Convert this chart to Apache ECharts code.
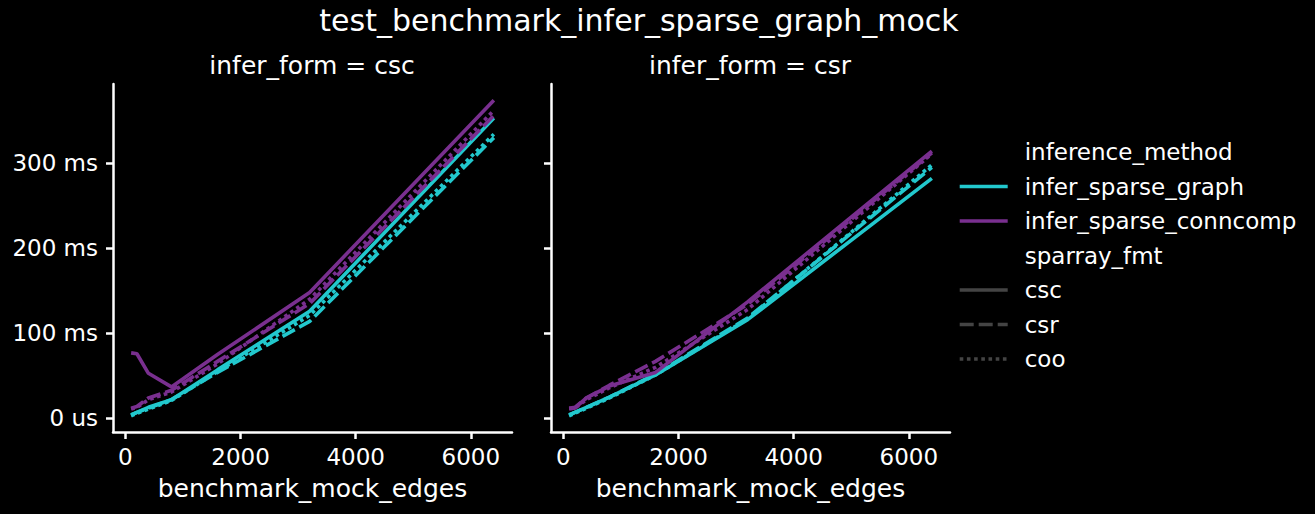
<!DOCTYPE html>
<html>
<head>
<meta charset="utf-8">
<script src="https://cdn.jsdelivr.net/npm/echarts@6/dist/echarts.min.js"></script>
<style>
  html, body { margin: 0; padding: 0; background: #000; }
  #chart { width: 1315px; height: 514px; }
</style>
</head>
<body>
<div id="chart"></div>
<script>
// benchmark_mock_edges
const edges = [100, 200, 400, 800, 1600, 3200, 6400];

// panel infer_form = csc (ms)
const cscGraphCsc = [4, 7, 13, 22, 57, 126, 353];
const cscGraphCsr = [4, 7, 12, 22, 54, 114, 330];
const cscGraphCoo = [3, 6, 11, 21, 55, 121, 334];
const cscConnCsc = [77, 76, 53, 37, 75, 148, 374];
const cscConnCsr = [12, 14, 24, 33, 67, 135, 356];
const cscConnCoo = [11, 13, 22, 31, 64, 140, 362];

// panel infer_form = csr (ms)
const csrGraphCsc = [4, 7, 13, 25, 51, 116, 282];
const csrGraphCsr = [4, 7, 13, 25, 52, 118, 295];
const csrGraphCoo = [3, 6, 12, 24, 51, 117, 298];
const csrConnCsc = [12, 12, 24, 38, 54, 137, 314];
const csrConnCsr = [12, 13, 24, 39, 67, 134, 312];
const csrConnCoo = [11, 12, 22, 36, 60, 128, 311];

const xTicks = [0, 2000, 4000, 6000];
const xTickLabels = ['0', '2000', '4000', '6000'];
const yTicks = [0, 100, 200, 300];
const yTickLabels = ['0 us', '100 ms', '200 ms', '300 ms'];
const panelTitles = ['infer_form = csc', 'infer_form = csr'];
const legendNames = ['inference_method', 'infer_sparse_graph', 'infer_sparse_conncomp',
                     'sparray_fmt', 'csc', 'csr', 'coo'];

const CYAN = '#22c8cd';
const PURPLE = '#792f8f';
const FONT = 'DejaVu Sans';
const LW = 3.6;
const dashes = { csc: 'solid', csr: [14, 5], coo: [3.6, 3.6] };

const chart = echarts.init(document.getElementById('chart'), null, { renderer: 'svg' });

function pts(ys) {
  return edges.map((x, i) => [x, ys[i]]);
}

function line(name, panel, ys, color, fmt) {
  return {
    name: name,
    type: 'line',
    xAxisIndex: panel,
    yAxisIndex: panel,
    data: pts(ys),
    symbol: 'none',
    silent: true,
    animation: false,
    lineStyle: { color: color, width: LW, type: dashes[fmt], cap: 'butt' }
  };
}

function axisX(i) {
  return {
    type: 'value', gridIndex: i, min: -215, max: 6715,
    name: 'benchmark_mock_edges', nameLocation: 'middle', nameGap: 44,
    nameTextStyle: { color: '#fff', fontSize: 25, fontFamily: FONT },
    axisLine: { onZero: false, lineStyle: { color: '#fff', width: 2.5 } },
    axisTick: { customValues: xTicks, length: 7, lineStyle: { color: '#fff', width: 2.5 } },
    axisLabel: {
      customValues: xTicks, color: '#fff', fontSize: 23, fontFamily: FONT, margin: 13,
      formatter: v => xTickLabels[xTicks.indexOf(v)]
    },
    splitLine: { show: false }
  };
}

function axisY(i) {
  return {
    type: 'value', gridIndex: i, min: -16, max: 393,
    axisLine: { show: true, onZero: false, lineStyle: { color: '#fff', width: 2.5 } },
    axisTick: { show: true, customValues: yTicks, length: 7, lineStyle: { color: '#fff', width: 2.5 } },
    axisLabel: {
      show: i === 0, customValues: yTicks, color: '#fff', fontSize: 23, fontFamily: FONT, margin: 15,
      formatter: v => yTickLabels[yTicks.indexOf(v)]
    },
    splitLine: { show: false }
  };
}

const legendSeries = [
  { name: 'inference_method', color: '#000', fmt: 'csc', opacity: 0 },
  { name: 'infer_sparse_graph', color: CYAN, fmt: 'csc', opacity: 1 },
  { name: 'infer_sparse_conncomp', color: PURPLE, fmt: 'csc', opacity: 1 },
  { name: 'sparray_fmt', color: '#000', fmt: 'csc', opacity: 0 },
  { name: 'csc', color: '#444', fmt: 'csc', opacity: 1 },
  { name: 'csr', color: '#444', fmt: 'csr', opacity: 1 },
  { name: 'coo', color: '#444', fmt: 'coo', opacity: 1 }
].map(d => ({
  name: d.name, type: 'line', data: [], symbol: 'none',
  xAxisIndex: 0, yAxisIndex: 0,
  itemStyle: { color: d.color, opacity: 0 },
  lineStyle: { color: d.color, width: LW, type: dashes[d.fmt], opacity: d.opacity }
}));

const option = {
  backgroundColor: '#000',
  animation: false,
  title: [
    { text: 'test_benchmark_infer_sparse_graph_mock', left: 639, top: 5, textAlign: 'center', padding: 0,
      textStyle: { color: '#fff', fontSize: 30, fontWeight: 'normal', fontFamily: FONT } },
    { text: panelTitles[0], left: 312, top: 53, textAlign: 'center', padding: 0,
      textStyle: { color: '#fff', fontSize: 25, fontWeight: 'normal', fontFamily: FONT } },
    { text: panelTitles[1], left: 750, top: 53, textAlign: 'center', padding: 0,
      textStyle: { color: '#fff', fontSize: 25, fontWeight: 'normal', fontFamily: FONT } }
  ],
  legend: {
    data: legendNames,
    left: 958, top: 140, orient: 'vertical', padding: 0,
    itemWidth: 48, itemHeight: 14, itemGap: 10.5,
    selectedMode: false,
    itemStyle: { opacity: 0 },
    lineStyle: { width: 3.4 },
    textStyle: { color: '#fff', fontSize: 23, fontFamily: FONT, lineHeight: 24, padding: [0, 0, 0, 12] }
  },
  grid: [
    { left: 113, top: 84, width: 399, height: 348 },
    { left: 551, top: 84, width: 399, height: 348 }
  ],
  xAxis: [axisX(0), axisX(1)],
  yAxis: [axisY(0), axisY(1)],
  series: [
    line('csc graph csc', 0, cscGraphCsc, CYAN, 'csc'),
    line('csc graph csr', 0, cscGraphCsr, CYAN, 'csr'),
    line('csc graph coo', 0, cscGraphCoo, CYAN, 'coo'),
    line('csc conn csc', 0, cscConnCsc, PURPLE, 'csc'),
    line('csc conn csr', 0, cscConnCsr, PURPLE, 'csr'),
    line('csc conn coo', 0, cscConnCoo, PURPLE, 'coo'),
    line('csr graph csc', 1, csrGraphCsc, CYAN, 'csc'),
    line('csr graph csr', 1, csrGraphCsr, CYAN, 'csr'),
    line('csr graph coo', 1, csrGraphCoo, CYAN, 'coo'),
    line('csr conn csc', 1, csrConnCsc, PURPLE, 'csc'),
    line('csr conn csr', 1, csrConnCsr, PURPLE, 'csr'),
    line('csr conn coo', 1, csrConnCoo, PURPLE, 'coo')
  ].concat(legendSeries)
};

chart.setOption(option);
</script>
</body>
</html>
